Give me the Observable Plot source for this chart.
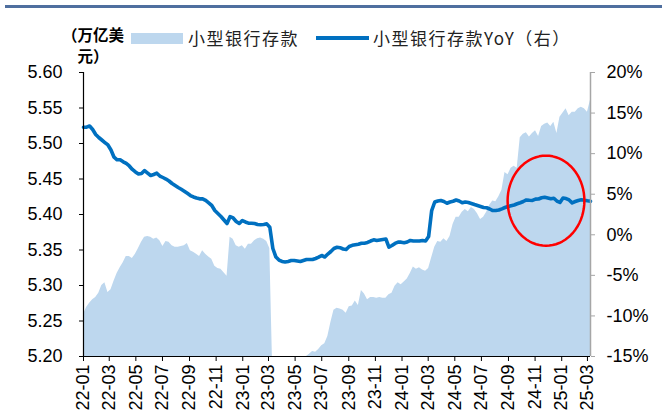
<!DOCTYPE html>
<html><head><meta charset="utf-8">
<script src="https://cdn.jsdelivr.net/npm/d3@7"></script>
<script src="https://cdn.jsdelivr.net/npm/@observablehq/plot@0.6"></script>
<style>
body{margin:0;background:#fff;}
#wrap{position:relative;width:662px;height:418px;overflow:hidden;font-family:"Liberation Sans",Arial,sans-serif;}
#chart{position:absolute;left:0;top:0;}
#rule{position:absolute;left:5px;top:5px;width:657px;height:2.5px;background:#4f6f9f;}
.unit{position:absolute;left:58px;width:70px;height:20px;text-align:center;font:bold 15.5px/20px "Noto Sans CJK SC",sans-serif;color:#000;overflow:visible;}
.sw{position:absolute;}
.lg{position:absolute;font:17px/20px "Noto Sans CJK SC",sans-serif;letter-spacing:1.5px;color:#222;white-space:nowrap;}
</style></head><body>
<div id="wrap">
  <div id="chart"></div>
  <div id="rule"></div>
  <div class="unit" style="top:24px">（万亿美</div>
  <div class="unit" style="top:45px">元）</div>
  <div class="sw" style="left:131px;top:33px;width:52px;height:11px;background:#BDD7EE"></div>
  <div class="lg" id="lg1" style="left:188px;top:28px">小型银行存款</div>
  <div class="sw" style="left:316px;top:36px;width:53px;height:4px;background:#0070C0"></div>
  <div class="lg" id="lg2" style="left:373px;top:28px">小型银行存款YoY（右）</div>
</div>
<script>
// Weekly observations starting 2022-01-01
const startDate = "2022-01-01";
const endDate = "2025-03-08";
// 小型银行存款 (万亿美元), left axis
const deposits = [
5.259,5.269,5.275,5.280,5.283,5.289,5.300,5.304,5.290,5.294,
5.306,5.317,5.325,5.332,5.341,5.341,5.338,5.344,5.352,5.361,
5.368,5.369,5.368,5.365,5.367,5.363,5.355,5.362,5.361,5.356,
5.354,5.354,5.355,5.356,5.359,5.349,5.347,5.344,5.341,5.349,
5.344,5.340,5.337,5.327,5.324,5.323,5.318,5.313,5.368,5.365,
5.356,5.354,5.356,5.351,5.358,5.358,5.363,5.366,5.367,5.365,
5.362,5.352,5.170,5.165,5.160,5.162,5.168,5.172,5.178,5.180,
5.184,5.190,5.195,5.200,5.203,5.207,5.206,5.210,5.215,5.218,
5.228,5.248,5.265,5.268,5.267,5.265,5.261,5.270,5.271,5.278,
5.272,5.293,5.288,5.280,5.283,5.283,5.282,5.283,5.282,5.282,
5.287,5.289,5.299,5.304,5.301,5.305,5.309,5.317,5.326,5.323,
5.325,5.322,5.320,5.324,5.339,5.354,5.362,5.361,5.366,5.362,
5.369,5.386,5.396,5.396,5.403,5.407,5.404,5.410,5.407,5.401,
5.393,5.396,5.403,5.413,5.419,5.418,5.425,5.434,5.459,5.456,
5.465,5.468,5.465,5.508,5.513,5.515,5.509,5.514,5.518,5.510,
5.524,5.527,5.529,5.524,5.530,5.514,5.537,5.543,5.549,5.539,
5.544,5.544,5.549,5.551,5.549,5.544,5.561];
// 小型银行存款YoY (%), right axis
const yoy = [
13.26,13.26,13.41,12.98,12.36,11.99,11.68,11.37,11.07,10.45,
9.56,9.24,9.24,8.99,8.79,8.48,8.05,7.74,7.49,7.55,
7.92,7.61,7.31,7.43,7.59,7.24,7.06,6.87,6.63,6.32,
6.07,5.83,5.61,5.37,5.11,4.84,4.66,4.53,4.43,4.43,
4.23,3.92,3.61,2.99,2.62,2.25,1.82,1.39,2.25,2.07,
1.64,1.39,1.76,1.58,1.43,1.43,1.39,1.27,1.24,1.27,
1.35,0.93,-1.69,-2.74,-3.11,-3.29,-3.35,-3.29,-3.17,-3.17,
-3.23,-3.29,-3.17,-3.05,-3.05,-3.05,-2.92,-2.76,-2.55,-2.74,
-2.37,-2.06,-1.69,-1.54,-1.59,-1.75,-1.81,-1.44,-1.30,-1.23,
-1.16,-1.04,-1.04,-0.95,-0.77,-0.62,-0.70,-0.64,-0.58,-0.52,
-1.51,-1.32,-1.07,-0.91,-0.91,-0.98,-0.89,-0.70,-0.77,-0.77,
-0.77,-0.70,-0.77,-0.21,2.99,4.04,4.16,4.23,4.10,3.89,
4.04,4.13,4.29,4.16,3.94,4.04,3.98,3.86,3.73,3.61,
3.49,3.36,3.33,3.18,2.99,2.99,3.05,3.20,3.36,3.49,
3.58,3.67,3.82,3.95,4.10,4.29,4.25,4.23,4.39,4.41,
4.56,4.62,4.53,4.44,4.50,4.16,3.98,4.53,4.47,4.29,
3.94,4.10,4.23,4.32,4.25,4.19,4.14];
const xTickLabels = ["22-01","22-03","22-05","22-07","22-09","22-11","23-01","23-03","23-05","23-07","23-09","23-11","24-01","24-03","24-05","24-07","24-09","24-11","25-01","25-03"];
const leftTicks = [5.20,5.25,5.30,5.35,5.40,5.45,5.50,5.55,5.60];
const rightTicks = [-15,-10,-5,0,5,10,15,20];
// annotation ellipse (centre date, centre %, half-width days, half-height %)
const markCenter = "2024-11-26", markCenterPct = 4.2, markHalfDays = 88, markHalfPct = 5.55;

const L0 = 5.2, L1 = 5.6, R0 = -15, R1 = 20;
const toLeft = v => L0 + (v - R0) * (L1 - L0) / (R1 - R0);
const fromLeft = v => R0 + (v - L0) * (R1 - R0) / (L1 - L0);
const parse = s => new Date(s + "T00:00:00Z");
const x0 = parse(startDate), x1 = parse(endDate);
const data = deposits.map((v, i) => ({date: d3.utcDay.offset(x0, 7 * i), dep: v, yoy: yoy[i]}));
const xTicks = xTickLabels.map(s => new Date(Date.UTC(2000 + +s.slice(0, 2), +s.slice(3) - 1, 1)));
const c = parse(markCenter);
const ellipse = d3.range(72).map(k => {
  const a = 2 * Math.PI * k / 72;
  return {date: new Date(+c + Math.cos(a) * markHalfDays * 864e5), v: toLeft(markCenterPct + Math.sin(a) * markHalfPct)};
});

const chart = Plot.plot({
  width: 662, height: 418,
  marginLeft: 83, marginRight: 72, marginTop: 72, marginBottom: 62,
  style: {fontFamily: "'Liberation Sans', Arial, sans-serif", fontSize: "18px", color: "#000", background: "transparent"},
  x: {type: "utc", domain: [x0, x1]},
  y: {domain: [L0, L1]},
  marks: [
    Plot.areaY(data, {x: "date", y1: L0, y2: "dep", fill: "#BDD7EE", curve: "linear", clip: true}),
    Plot.line(data, {x: "date", y: d => toLeft(d.yoy), stroke: "#0070C0", strokeWidth: 3.6, curve: "linear"}),
    Plot.line(ellipse, {x: "date", y: "v", curve: "linear-closed", stroke: "#FF0000", strokeWidth: 2.5}),
    Plot.ruleY([L0], {stroke: "#000", strokeWidth: 1.2}),
    Plot.ruleX([x0], {stroke: "#000", strokeWidth: 1.2}),
    Plot.ruleX([x1], {stroke: "#a6a6a6", strokeWidth: 1.5}),
    Plot.axisY(leftTicks, {anchor: "left", tickSize: 4, tickPadding: 17, tickFormat: d => d.toFixed(2), fontSize: 18, stroke: "#000", fill: "#000"}),
    Plot.axisY(rightTicks.map(toLeft), {anchor: "right", tickSize: 4, tickPadding: 12, tickFormat: v => Math.round(fromLeft(v)) + "%", fontSize: 18, stroke: "#a6a6a6", fill: "#000"}),
    Plot.axisX(xTicks, {anchor: "bottom", tickSize: 5, tickPadding: 3, tickRotate: -90, tickFormat: d3.utcFormat("%y-%m"), fontSize: 18, stroke: "#000", fill: "#000"})
  ]
});
document.getElementById("chart").appendChild(chart);
</script>
</body></html>
